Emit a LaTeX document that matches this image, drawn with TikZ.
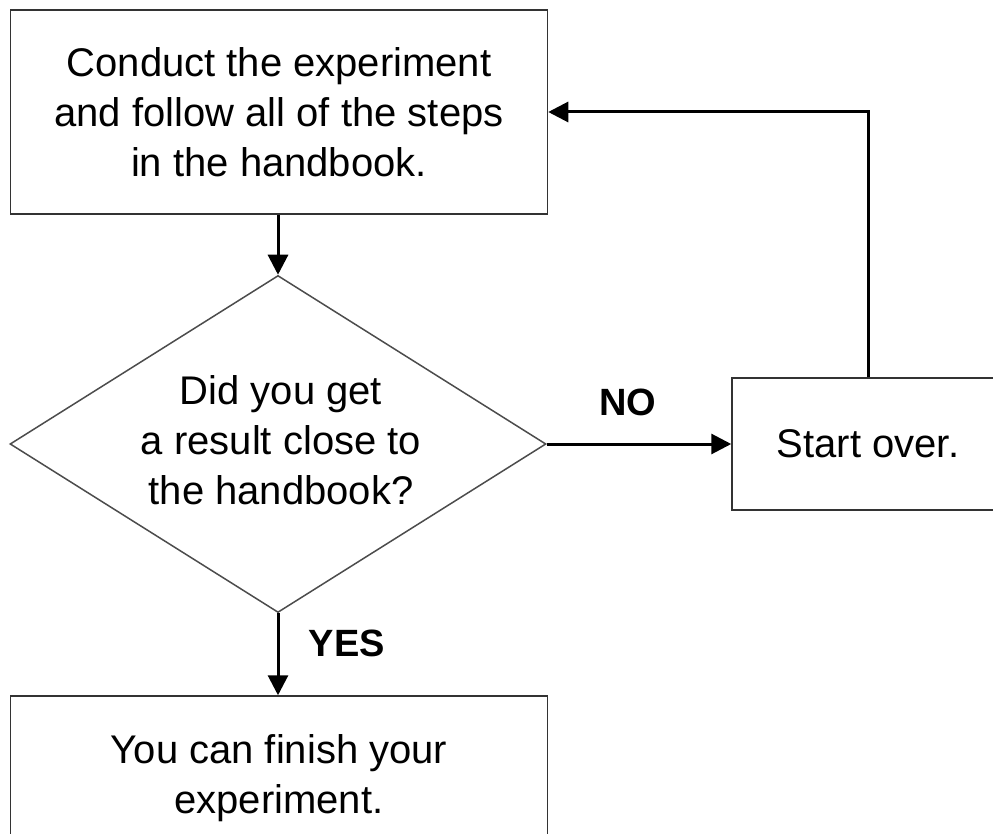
\documentclass[tikz,border=0pt]{standalone}
\usepackage{fontspec}
\setmainfont{Liberation Sans}
\usetikzlibrary{shapes.geometric,arrows.meta}
\begin{document}
\begin{tikzpicture}[x=1pt,y=-1pt,
  boxstyle/.style={draw=black!80,line width=1.5pt,inner sep=0pt,align=center,
    font=\fontsize{40}{50}\selectfont},
  arrowline/.style={line width=3pt,-{Triangle[length=20pt,width=20pt]}},
  lbl/.style={font=\fontsize{38}{46}\selectfont\bfseries,inner sep=0pt}]
\useasboundingbox (0,0) rectangle (993,834);
\node[boxstyle,minimum width=537pt,minimum height=204pt] (top) at (279,112)
  {Conduct the experiment\\and follow all of the steps\\in the handbook.};
\node[diamond,draw=black!70,line width=1.5pt,minimum width=536pt,minimum height=337pt,
  inner sep=0pt,aspect=1.59] (dec) at (278,444) {};
\node[align=center,inner sep=0pt,font=\fontsize{40}{50}\selectfont] (dectext) at (281,440)
  {Did you get\\a result close to\\the handbook?};
\node[boxstyle,minimum width=272pt,minimum height=132pt] (start) at (868,444) {Start over.};
\node[boxstyle,minimum width=537pt,minimum height=164pt] (fin) at (279,778)
  {You can finish your\\experiment.};
\draw[arrowline] (top.south -| dec.north) -- (dec.north);
\draw[arrowline] (dec.east) -- (start.west);
\draw[arrowline] (dec.south) -- (fin.north -| dec.south);
\draw[arrowline] (start.north) |- (top.east);
\node[lbl] (no) at (628,402) {NO};
\node[lbl] (yes) at (347,643) {YES};
\end{tikzpicture}
\end{document}
